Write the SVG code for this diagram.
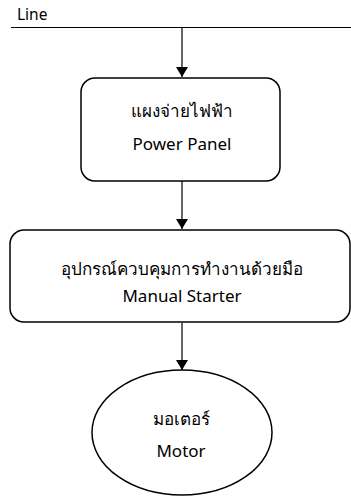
<svg xmlns="http://www.w3.org/2000/svg" width="351" height="496" viewBox="0 0 351 496">
<defs>
<style>
.node{fill:#fff;stroke:#000;stroke-width:1.5}
.t{font-family:"Noto Sans","DejaVu Sans",sans-serif;font-size:17px;fill:#000;text-anchor:middle}
.c{stroke:#000;stroke-width:1.2;fill:none}
</style>
<marker id="ah" markerWidth="12" markerHeight="12" refX="10" refY="6" orient="auto" markerUnits="userSpaceOnUse">
<path d="M0,0 L10,6 L0,12 Z" fill="#000"/>
</marker>
</defs>
<g id="line">
<text x="17" y="20" style="font-family:'Noto Sans','DejaVu Sans',sans-serif;font-size:15.5px">Line</text>
<path d="M11,27.5 H351" stroke="#000" stroke-width="1"/>
</g>
<g id="connectors">
<path class="c" d="M182,28 V77" marker-end="url(#ah)"/>
<path class="c" d="M182,181 V229" marker-end="url(#ah)"/>
<path class="c" d="M182,323 V370" marker-end="url(#ah)"/>
</g>
<g id="power-panel">
<rect class="node" x="81" y="78" width="199" height="103" rx="14"/>
<text class="t" x="182" y="117">แผงจ่ายไฟฟ้า</text>
<text class="t" x="182" y="150">Power Panel</text>
</g>
<g id="manual-starter">
<rect class="node" x="10" y="230" width="340" height="92" rx="14"/>
<text class="t" x="182" y="275">อุปกรณ์ควบคุมการทำงานด้วยมือ</text>
<text class="t" x="182" y="302">Manual Starter</text>
</g>
<g id="motor">
<ellipse class="node" cx="182" cy="432.5" rx="90" ry="62.5"/>
<text class="t" x="181" y="425">มอเตอร์</text>
<text class="t" x="181" y="457">Motor</text>
</g>
</svg>
